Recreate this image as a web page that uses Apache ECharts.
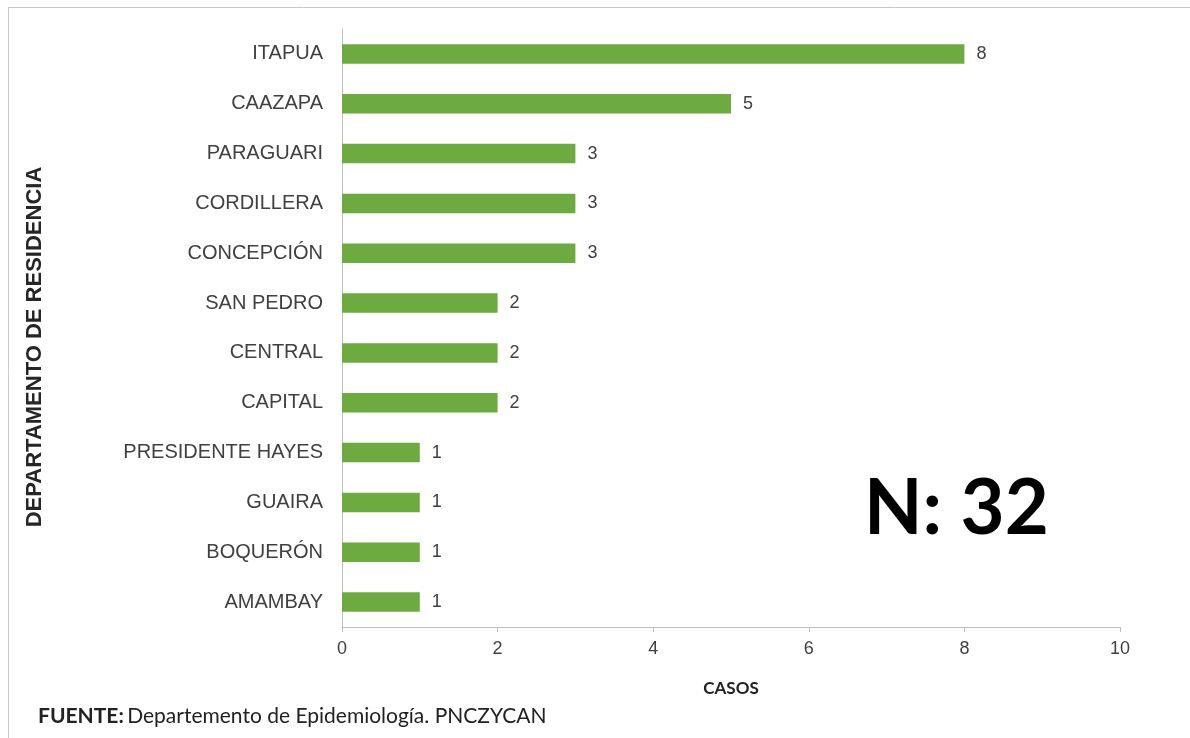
<!DOCTYPE html>
<html><head><meta charset="utf-8">
<script src="https://cdn.jsdelivr.net/npm/echarts@6/dist/echarts.min.js"></script>
<style>html,body{margin:0;padding:0;background:#fff}#c{width:1190px;height:738px}</style>
</head><body><div id="c"></div>
<script>
const categories = ["ITAPUA","CAAZAPA","PARAGUARI","CORDILLERA","CONCEPCIÓN","SAN PEDRO","CENTRAL","CAPITAL","PRESIDENTE HAYES","GUAIRA","BOQUERÓN","AMAMBAY"];
const values = [8,5,3,3,3,2,2,2,1,1,1,1];
const xTicks = [0,2,4,6,8,10];
const chart = echarts.init(document.getElementById('c'));
chart.setOption({
  animation:false,
  backgroundColor:'#fff',
  grid:{left:342,right:70,top:29,bottom:111,containLabel:false},
  xAxis:{type:'value',min:0,max:10,interval:2,
    axisLine:{show:true,lineStyle:{color:'#bfbfbf',width:1}},
    axisTick:{show:true,length:5,lineStyle:{color:'#bfbfbf'}},
    splitLine:{show:false},
    axisLabel:{fontFamily:'Liberation Sans',fontSize:18,color:'#404040',margin:13,
      formatter:v=>xTicks.includes(v)?String(v):''}},
  yAxis:{type:'category',data:categories,inverse:true,
    axisLine:{show:true,lineStyle:{color:'#bfbfbf',width:1}},
    axisTick:{show:false},
    axisLabel:{fontFamily:'Liberation Sans',fontSize:20,color:'#404040',margin:19}},
  series:[{type:'bar',data:values,barWidth:'39%',
    itemStyle:{color:'#6DAB40'},
    label:{show:true,position:'right',distance:12,fontFamily:'Liberation Sans',fontSize:18,color:'#404040'}}],
  graphic:[
    {type:'line',shape:{x1:8,y1:7.5,x2:1190,y2:7.5},style:{stroke:'#c8c8c8',lineWidth:1},silent:true},
    {type:'line',shape:{x1:8.5,y1:7,x2:8.5,y2:738},style:{stroke:'#c8c8c8',lineWidth:1},silent:true},
    {type:'text',x:35,y:347,rotation:Math.PI/2,style:{text:'DEPARTAMENTO DE RESIDENCIA',align:'center',verticalAlign:'middle',fontFamily:'Liberation Sans',fontWeight:'bold',fontSize:22,fill:'#262626'}},
    {type:'text',left:864,top:471,style:{text:'N: 32',fontFamily:'Lato',fontWeight:'bold',fontSize:76,fill:'#000'}},
    {type:'text',x:731,y:689,style:{text:'CASOS',align:'center',verticalAlign:'middle',fontFamily:'Lato',fontWeight:'bold',fontSize:17,fill:'#222'}},
    {type:'text',x:38,y:716,style:{verticalAlign:'middle',rich:{b:{fontFamily:'Lato',fontWeight:'bold',fontSize:21,fill:'#222'},n:{fontFamily:'Lato',fontSize:21,fill:'#222'}},text:'{b|FUENTE:} {n|Departemento de Epidemiología. PNCZYCAN}'}}
  ]
});
</script></body></html>
